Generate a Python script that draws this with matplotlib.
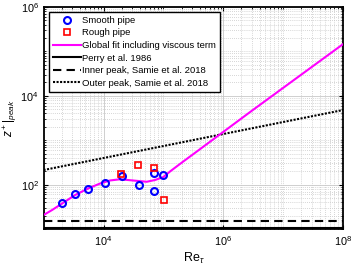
import numpy as np
import matplotlib
matplotlib.use("Agg")
import matplotlib.pyplot as plt
from matplotlib.ticker import LogLocator, NullFormatter

plt.rcParams["font.family"] = ["Liberation Sans", "DejaVu Sans"]
plt.rcParams["mathtext.fontset"] = "custom"
plt.rcParams["mathtext.rm"] = "Liberation Sans"
plt.rcParams["mathtext.it"] = "Liberation Sans:italic"

# smooth pipe peaks
smooth_re = [2010, 3400, 5500, 10700, 20700, 38600, 69500, 69500, 99000]
smooth_z = [38, 61, 81, 111, 160, 98, 180, 73, 164]

# rough pipe peaks
rough_re = [19600, 37100, 70300, 102000]
rough_z = [176, 280, 233, 45]

# global fit curve
fit_re = [1000, 1386, 2033, 3350, 5520, 8750, 12800, 18800, 31000, 52500,
          72100, 99300, 130000, 184000, 271000, 398000, 2.76e6, 1e8]
fit_z = [20.7, 26.8, 37.5, 58.3, 81.7, 106, 124, 132, 124, 116,
         127, 148, 200, 285, 420, 615, 4270, 147000]

# reference lines
line_re = [1e3, 1e8]
perry_z = [10.8, 10.8]
inner_z = [15, 15]
outer_z = [213, 4790]


def main():
    fig = plt.figure(figsize=(3.54, 2.75), dpi=100)
    ax = fig.add_axes([0.123, 0.167, 0.847, 0.808])

    ax.plot(smooth_re, smooth_z, "o", ls="none", mfc="none", mec="#0000ff",
            ms=5, mew=1.5, label="Smooth pipe", zorder=5)
    ax.plot(rough_re, rough_z, "s", ls="none", mfc="none", mec="#ff0000",
            ms=4, mew=1.2, label="Rough pipe", zorder=5)
    ax.plot(fit_re, fit_z, color="#ff00ff", lw=1.5,
            label="Global fit including viscous term", zorder=4)
    ax.plot(line_re, perry_z, color="k", lw=1.5, label="Perry et al. 1986")
    ax.plot(line_re, inner_z, color="k", lw=1.5, ls=(0, (4, 2.5)),
            label="Inner peak, Samie et al. 2018")
    ax.plot(line_re, outer_z, color="k", lw=1.5, ls=(0, (1, 0.7)),
            label="Outer peak, Samie et al. 2018")

    ax.set_xscale("log")
    ax.set_yscale("log")
    ax.set_xlim(1e3, 1e8)
    ax.set_ylim(1e1, 1e6)
    ax.set_xticks([1e4, 1e6, 1e8])
    ax.set_yticks([1e2, 1e4, 1e6])
    ax.xaxis.set_minor_locator(LogLocator(base=10, subs=np.arange(1, 10), numticks=20))
    ax.yaxis.set_minor_locator(LogLocator(base=10, subs=np.arange(1, 10), numticks=20))
    ax.xaxis.set_minor_formatter(NullFormatter())
    ax.yaxis.set_minor_formatter(NullFormatter())

    ax.grid(True, which="major", color="#c8c8c8", ls="-", lw=0.6)
    ax.grid(True, which="minor", color="#c8c8c8", ls=(0, (1, 1.5)), lw=0.6)
    ax.set_axisbelow(True)

    ax.tick_params(which="both", direction="in", top=True, right=True,
                   labelsize=7.8, color="k")
    ax.tick_params(which="major", length=3, width=0.8)
    ax.tick_params(which="minor", length=1.5, width=0.6)
    for sp in ax.spines.values():
        sp.set_linewidth(1.3)

    ax.set_xlabel(r"Re$_\tau$", fontsize=9, labelpad=2)
    ax.set_ylabel(r"$z^+|_{peak}$", fontsize=8.5, labelpad=1)

    leg = ax.legend(loc="upper left", fontsize=6.8, frameon=True, fancybox=False,
                    edgecolor="k", framealpha=1, handlelength=3.0,
                    handletextpad=0.15, borderpad=0.4, labelspacing=0.38,
                    borderaxespad=0.55)
    leg.get_frame().set_linewidth(1.0)

    fig.savefig("out.png", dpi=100)


if __name__ == "__main__":
    main()
